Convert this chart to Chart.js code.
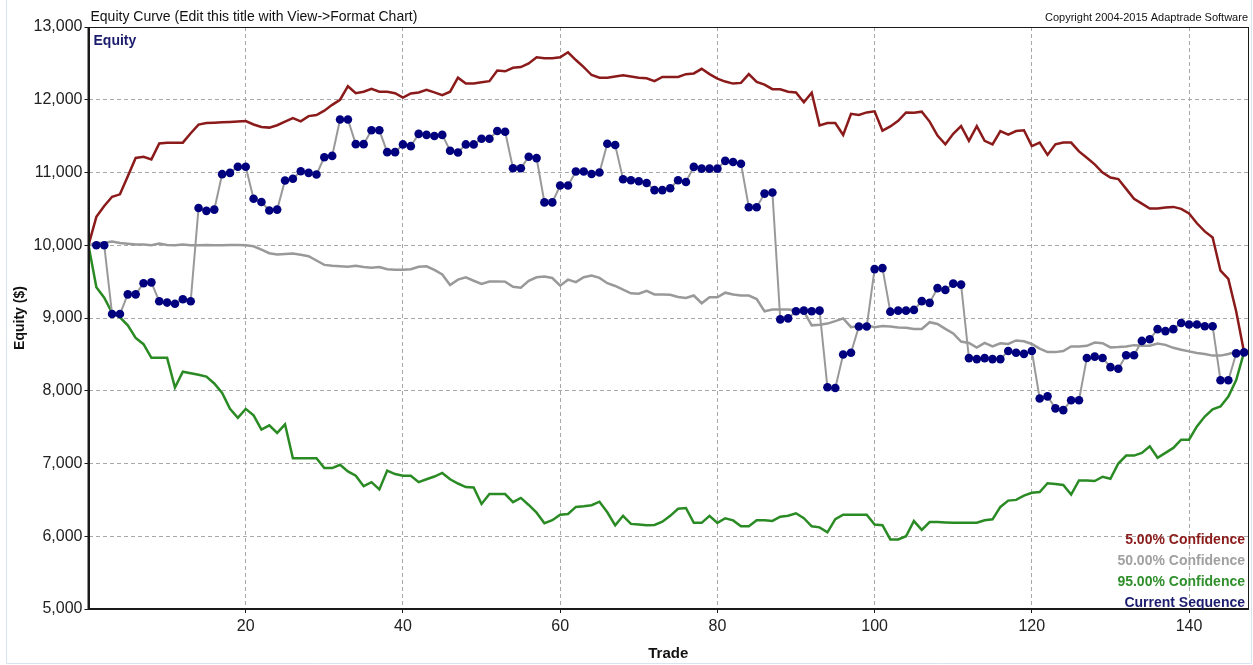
<!DOCTYPE html>
<html>
<head>
<meta charset="utf-8">
<title>Equity Curve</title>
<script src="https://cdn.jsdelivr.net/npm/chart.js@4.4.1/dist/chart.umd.min.js"></script>
<style>
  html, body { margin: 0; padding: 0; background: #ffffff; }
  #wrap { position: relative; width: 1253px; height: 665px; }
  canvas { display: block; }
</style>
</head>
<body>
<div id="wrap"><canvas id="equity" width="1253" height="665"></canvas></div>
<script>
// Trade numbers on the horizontal axis (0 = starting equity)
const trades = Array.from({ length: 148 }, (_, i) => i);

// Equity of the actual trade sequence
const currentSequence = [
  10000, 10000, 10000, 9055, 9055, 9325, 9325, 9478, 9490, 9230,
  9212, 9195, 9257, 9230, 10513, 10473, 10490, 10977, 10995, 11080,
  11080, 10640, 10595, 10477, 10490, 10891, 10914, 11017, 10995, 10972,
  11210, 11228, 11728, 11728, 11390, 11390, 11580, 11580, 11280, 11280,
  11386, 11362, 11531, 11517, 11502, 11517, 11300, 11275, 11386, 11386,
  11464, 11464, 11570, 11560, 11058, 11058, 11217, 11198, 10589, 10589,
  10821, 10821, 11014, 11014, 10980, 11000, 11396, 11377, 10908, 10894,
  10879, 10855, 10758, 10758, 10783, 10894, 10870, 11077, 11053, 11053,
  11053, 11160, 11145, 11121, 10522, 10522, 10710, 10725, 8981, 8995,
  9092, 9101, 9092, 9101, 8048, 8038, 8498, 8522, 8884, 8884,
  9672, 9686, 9087, 9101, 9101, 9111, 9232, 9208, 9411, 9386,
  9473, 9459, 8449, 8435, 8449, 8435, 8435, 8546, 8522, 8507,
  8546, 7894, 7923, 7758, 7734, 7870, 7870, 8451, 8469, 8451,
  8325, 8302, 8487, 8487, 8685, 8707, 8847, 8820, 8847, 8932,
  8910, 8910, 8887, 8887, 8145, 8145, 8514, 8527
];

// 5% confidence (upper) Monte Carlo equity band
const conf5 = [
  10000, 10390, 10540, 10666, 10700, 10950, 11200, 11215, 11180, 11400,
  11410, 11410, 11410, 11540, 11658, 11680, 11685, 11690, 11694, 11700,
  11707, 11660, 11626, 11617, 11650, 11700, 11748, 11703, 11775, 11790,
  11850, 11930, 12000, 12186, 12090, 12110, 12150, 12111, 12111, 12090,
  12029, 12087, 12101, 12135, 12101, 12063, 12111, 12304, 12222, 12222,
  12240, 12256, 12401, 12391, 12440, 12449, 12500, 12584, 12570, 12570,
  12584, 12652, 12546, 12449, 12340, 12304, 12304, 12320, 12338, 12320,
  12304, 12295, 12256, 12314, 12314, 12314, 12352, 12362, 12425, 12352,
  12290, 12250, 12222, 12232, 12353, 12246, 12208, 12145, 12145, 12111,
  12101, 11966, 12097, 11647, 11681, 11681, 11517, 11807, 11792, 11826,
  11841, 11575, 11633, 11710, 11826, 11821, 11836, 11700, 11507, 11387,
  11532, 11638, 11435, 11638, 11435, 11387, 11570, 11522, 11570, 11580,
  11362, 11411, 11242, 11387, 11411, 11411, 11290, 11203, 11112, 11000,
  10932, 10910, 10775, 10640, 10572, 10505, 10505, 10518, 10527, 10500,
  10437, 10302, 10190, 10108, 9650, 9537, 9090, 8530
];

// 50% confidence (median) equity
const conf50 = [
  10000, 10030, 10035, 10050, 10030, 10020, 10010, 10010, 10000, 10025,
  10005, 10000, 10010, 10000, 10000, 10005, 10000, 10000, 10005, 10005,
  10000, 9986, 9940, 9890, 9873, 9880, 9887, 9870, 9850, 9790,
  9730, 9717, 9710, 9703, 9717, 9700, 9690, 9700, 9670, 9662,
  9662, 9670, 9705, 9710, 9660, 9599, 9454, 9527, 9560, 9512,
  9469, 9502, 9502, 9500, 9430, 9416, 9510, 9560, 9570, 9550,
  9444, 9527, 9493, 9560, 9585, 9551, 9478, 9440, 9390, 9340,
  9333, 9372, 9324, 9322, 9319, 9290, 9275, 9309, 9203, 9285,
  9285, 9348, 9324, 9309, 9309, 9261, 9092, 9116, 9116, 9116,
  9106, 9092, 8899, 8908, 8923, 8957, 8995, 8874, 8890, 8899,
  8874, 8889, 8884, 8870, 8865, 8850, 8850, 8942, 8918, 8850,
  8787, 8676, 8657, 8594, 8657, 8609, 8652, 8643, 8691, 8681,
  8643, 8580, 8531, 8531, 8546, 8609, 8609, 8618, 8662, 8654,
  8595, 8600, 8609, 8627, 8620, 8618, 8649, 8631, 8590, 8564,
  8541, 8520, 8505, 8483, 8483, 8505, 8536, 8530
];

// 95% confidence (lower) Monte Carlo equity band
const conf95 = [
  10000, 9423, 9280, 9070, 9010, 8900, 8726, 8640, 8452, 8452,
  8452, 8045, 8262, 8240, 8220, 8195, 8100, 7970, 7751, 7629,
  7751, 7661, 7467, 7525, 7421, 7539, 7073, 7073, 7073, 7073,
  6937, 6937, 6982, 6892, 6833, 6689, 6743, 6643, 6903, 6855,
  6831, 6831, 6744, 6783, 6821, 6870, 6783, 6725, 6676, 6671,
  6444, 6580, 6580, 6580, 6469, 6527, 6430, 6324, 6179, 6220,
  6296, 6306, 6403, 6412, 6427, 6475, 6330, 6150, 6281, 6170,
  6160, 6150, 6155, 6200, 6281, 6378, 6388, 6184, 6184, 6281,
  6184, 6247, 6218, 6137, 6137, 6220, 6220, 6210, 6268, 6283,
  6316, 6248, 6137, 6122, 6054, 6234, 6297, 6297, 6297, 6297,
  6161, 6151, 5957, 5957, 6000, 6209, 6088, 6195, 6195, 6190,
  6185, 6185, 6185, 6185, 6219, 6233, 6403, 6490, 6500, 6558,
  6597, 6607, 6728, 6718, 6704, 6573, 6767, 6767, 6759, 6818,
  6791, 7000, 7109, 7109, 7146, 7237, 7078, 7146, 7214, 7328,
  7328, 7510, 7646, 7746, 7783, 7919, 8147, 8530
];

// Axis ticks
const xTicks = [20, 40, 60, 80, 100, 120, 140];
const yTicks = [5000, 6000, 7000, 8000, 9000, 10000, 11000, 12000, 13000];

const chartTitle = 'Equity Curve (Edit this title with View->Format Chart)';
const copyright = 'Copyright 2004-2015 Adaptrade Software';
const legendItems = [
  { text: '5.00% Confidence', color: '#8b1a1a' },
  { text: '50.00% Confidence', color: '#a0a0a0' },
  { text: '95.00% Confidence', color: '#2f8f2a' },
  { text: 'Current Sequence', color: '#1c1c6e' }
];

const FONT = '"Liberation Sans", Arial, sans-serif';

// Page frame, chart title, in-plot label and the text legend
const annotations = {
  id: 'annotations',
  beforeDraw(chart) {
    const ctx = chart.ctx;
    ctx.save();
    ctx.fillStyle = '#ffffff';
    ctx.fillRect(0, 0, chart.width, chart.height);
    ctx.strokeStyle = '#d7e5f3';
    ctx.lineWidth = 1;
    ctx.beginPath();
    ctx.moveTo(6.5, 0);
    ctx.lineTo(6.5, 663.5);
    ctx.lineTo(1251.5, 663.5);
    ctx.lineTo(1251.5, 0);
    ctx.stroke();
    ctx.restore();
  },
  afterDraw(chart) {
    const ctx = chart.ctx;
    const a = chart.chartArea;
    ctx.save();
    // plot frame
    ctx.strokeStyle = '#1a1a1a';
    ctx.lineWidth = 1;
    ctx.strokeRect(Math.round(a.left) + 0.5, Math.round(a.top) + 0.5,
      Math.round(a.right - a.left) - 1, Math.round(a.bottom - a.top));
    ctx.lineWidth = 2;
    ctx.beginPath();
    ctx.moveTo(a.left, a.top);
    ctx.lineTo(a.left, a.bottom);
    ctx.lineTo(a.right, a.bottom);
    ctx.stroke();

    ctx.textBaseline = 'alphabetic';
    ctx.fillStyle = '#111111';
    ctx.font = '14px ' + FONT;
    ctx.textAlign = 'left';
    ctx.fillText(chartTitle, a.left + 2, a.top - 6);

    ctx.font = '11px ' + FONT;
    ctx.textAlign = 'right';
    ctx.fillText(copyright, a.right, a.top - 6);

    ctx.font = 'bold 14px ' + FONT;
    ctx.textAlign = 'left';
    ctx.fillStyle = '#1c1c6e';
    ctx.fillText('Equity', a.left + 5, a.top + 18);

    ctx.textAlign = 'right';
    let y = a.bottom - 65;
    legendItems.forEach(item => {
      ctx.fillStyle = item.color;
      ctx.fillText(item.text, a.right - 3, y);
      y += 21;
    });
    ctx.restore();
  }
};

const gridStyle = {
  color: '#a8a8a8',
  lineWidth: 1,
  drawTicks: true,
  tickLength: 4,
  tickColor: '#1a1a1a',
  tickBorderDash: [],
  tickWidth: 1
};

new Chart(document.getElementById('equity'), {
  type: 'line',
  data: {
    labels: trades,
    datasets: [
      {
        label: 'Current Sequence',
        data: currentSequence,
        borderColor: '#999999',
        borderWidth: 2,
        backgroundColor: '#00007f',
        pointBackgroundColor: '#00007f',
        pointBorderColor: '#00007f',
        pointBorderWidth: 0,
        pointRadius: ctx => (ctx.dataIndex === 0 ? 0 : 4.3),
        tension: 0
      },
      {
        label: '5.00% Confidence',
        data: conf5,
        borderColor: '#8b1a1a',
        borderWidth: 2.5,
        pointRadius: 0,
        tension: 0
      },
      {
        label: '50.00% Confidence',
        data: conf50,
        borderColor: '#999999',
        borderWidth: 2.5,
        pointRadius: 0,
        tension: 0
      },
      {
        label: '95.00% Confidence',
        data: conf95,
        borderColor: '#2a8a24',
        borderWidth: 2.5,
        pointRadius: 0,
        tension: 0
      }
    ]
  },
  options: {
    responsive: false,
    animation: false,
    layout: { padding: { top: 27, right: 5, left: 0, bottom: 0 } },
    plugins: {
      legend: { display: false },
      tooltip: { enabled: false },
      title: { display: false }
    },
    scales: {
      x: {
        type: 'linear',
        min: 0,
        max: 147.5,
        afterBuildTicks: s => { s.ticks = xTicks.map(v => ({ value: v })); },
        afterFit: s => { s.height = 56; },
        border: { display: false, dash: [4, 3] },
        grid: gridStyle,
        ticks: {
          color: '#222222',
          font: { family: FONT, size: 16 },
          padding: 4,
          maxRotation: 0
        },
        title: {
          display: true,
          text: 'Trade',
          color: '#111111',
          font: { family: FONT, size: 15, weight: 'bold' },
          padding: { top: 0, bottom: 2 }
        }
      },
      y: {
        min: 5000,
        max: 13000,
        afterBuildTicks: s => { s.ticks = yTicks.map(v => ({ value: v })); },
        afterFit: s => { s.width = 88.5; },
        border: { display: false, dash: [4, 3] },
        grid: gridStyle,
        ticks: {
          color: '#222222',
          font: { family: FONT, size: 16 },
          padding: 2,
          callback: v => v.toLocaleString('en-US')
        },
        title: {
          display: true,
          text: 'Equity ($)',
          color: '#111111',
          font: { family: FONT, size: 14, weight: 'bold' },
          padding: { top: 12, bottom: 0 }
        }
      }
    }
  },
  plugins: [annotations]
});
</script>
</body>
</html>
